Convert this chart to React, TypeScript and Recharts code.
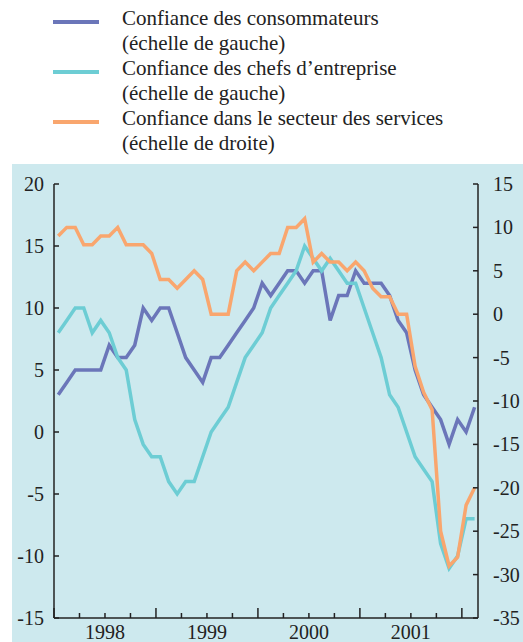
import React from "react";
import { LineChart, Line, XAxis, YAxis } from "recharts";

const years = ["1998", "1999", "2000", "2001"];

// monthly values, Jan 1998 - Feb 2002
const consumers = [
  3, 4, 5, 5, 5, 5, 7, 6, 6, 7, 10, 9,
  10, 10, 8, 6, 5, 4, 6, 6, 7, 8, 9, 10,
  12, 11, 12, 13, 13, 12, 13, 13, 9, 11, 11, 13,
  12, 12, 12, 11, 9, 8, 5, 3, 2, 1, -1, 1,
  0, 2,
];
const business = [
  8, 9, 10, 10, 8, 9, 8, 6, 5, 1, -1, -2,
  -2, -4, -5, -4, -4, -2, 0, 1, 2, 4, 6, 7,
  8, 10, 11, 12, 13, 15, 14, 13, 14, 13, 12, 12,
  10, 8, 6, 3, 2, 0, -2, -3, -4, -9, -11, -10,
  -7, -7,
];
const services = [
  9, 10, 10, 8, 8, 9, 9, 10, 8, 8, 8, 7,
  4, 4, 3, 4, 5, 4, 0, 0, 0, 5, 6, 5,
  6, 7, 7, 10, 10, 11, 6, 7, 6, 6, 5, 6,
  5, 3, 2, 2, 0, 0, -6, -9, -11, -25, -29, -28,
  -22, -20,
];

const leftTicks = [-15, -10, -5, 0, 5, 10, 15, 20];
const rightTicks = [-35, -30, -25, -20, -15, -10, -5, 0, 5, 10, 15];
const quarterTicks = Array.from({ length: 17 }, (_, i) => i * 3);

const data = consumers.map((c, i) => ({
  t: i + 0.5,
  consumers: c,
  business: business[i],
  services: services[i],
}));

const BLUE = "#6b76b9";
const CYAN = "#6dcdd4";
const ORANGE = "#f9a66e";
const INK = "#222";
const FONT = "'Liberation Serif', 'Times New Roman', serif";

const LeftTick = (props: any) => {
  const { x, y, payload } = props;
  return (
    <g>
      <line x1={x + 10} x2={x + 15} y1={y} y2={y} stroke={INK} strokeWidth={1.5} />
      <text x={x} y={y} dy="0.35em" textAnchor="end" fontSize={20} fontFamily={FONT} fill={INK}>
        {payload.value}
      </text>
    </g>
  );
};

const RightTick = (props: any) => {
  const { x, y, payload } = props;
  return (
    <g>
      <line x1={x - 20} x2={x - 15} y1={y} y2={y} stroke={INK} strokeWidth={1.5} />
      <text x={x} y={y} dy="0.35em" textAnchor="start" fontSize={20} fontFamily={FONT} fill={INK}>
        {payload.value}
      </text>
    </g>
  );
};

const BottomTick = (props: any) => {
  const { x, y, payload } = props;
  const v = payload.value;
  const axisY = y;
  const len = v % 12 === 0 ? 10 : 5;
  const label = v % 12 === 6 ? years[(v - 6) / 12] : null;
  return (
    <g>
      <line x1={x} x2={x} y1={axisY} y2={axisY - len} stroke={INK} strokeWidth={1.5} />
      {label && (
        <text x={x} y={axisY + 21} textAnchor="middle" fontSize={20} fontFamily={FONT} fill={INK}>
          {label}
        </text>
      )}
    </g>
  );
};

const legendRows = [
  { color: BLUE, lines: ["Confiance des consommateurs", "(échelle de gauche)"] },
  { color: CYAN, lines: ["Confiance des chefs d’entreprise", "(échelle de gauche)"] },
  { color: ORANGE, lines: ["Confiance dans le secteur des services", "(échelle de droite)"] },
];

export default function App() {
  return (
    <div style={{ position: "absolute", left: 0, top: 0, width: 523, height: 642, overflow: "hidden", background: "#fff" }}>
      <div style={{ position: "absolute", left: 12, top: 164, width: 511, height: 478, background: "#cde9ee" }} />
      {legendRows.map((r, i) => (
        <div key={i}>
          <div style={{ position: "absolute", left: 53, top: 20 + i * 50, width: 46, height: 4, background: r.color }} />
          <div
            style={{
              position: "absolute",
              left: 122,
              top: 6 + i * 50,
              fontFamily: FONT,
              fontSize: 21,
              lineHeight: "25px",
              color: INK,
              whiteSpace: "nowrap",
            }}
          >
            {r.lines.map((l) => (
              <div key={l}>{l}</div>
            ))}
          </div>
        </div>
      ))}
      <div style={{ position: "absolute", left: 0, top: 0 }}>
        <LineChart width={523} height={642} data={data} margin={{ top: 184, right: 0, bottom: 0, left: 0 }}>
          <XAxis
            dataKey="t"
            type="number"
            domain={[0, 49.9]}
            ticks={quarterTicks}
            interval={0}
            height={24}
            tickSize={0}
            tickMargin={0}
            tickLine={false}
            tick={<BottomTick />}
            axisLine={{ stroke: INK, strokeWidth: 1.5 }}
          />
          <YAxis
            yAxisId="left"
            orientation="left"
            domain={[-15, 20]}
            ticks={leftTicks}
            interval={0}
            width={54}
            tickSize={0}
            tickMargin={10}
            tickLine={false}
            tick={<LeftTick />}
            axisLine={{ stroke: INK, strokeWidth: 1.5 }}
          />
          <YAxis
            yAxisId="right"
            orientation="right"
            domain={[-35, 15]}
            ticks={rightTicks}
            interval={0}
            width={45}
            tickSize={0}
            tickMargin={15}
            tickLine={false}
            tick={<RightTick />}
            axisLine={{ stroke: INK, strokeWidth: 1.5 }}
          />
          <Line yAxisId="left" dataKey="consumers" stroke={BLUE} strokeWidth={3.5} dot={false} isAnimationActive={false} strokeLinejoin="miter" />
          <Line yAxisId="left" dataKey="business" stroke={CYAN} strokeWidth={3.5} dot={false} isAnimationActive={false} strokeLinejoin="miter" />
          <Line yAxisId="right" dataKey="services" stroke={ORANGE} strokeWidth={3.5} dot={false} isAnimationActive={false} strokeLinejoin="miter" />
        </LineChart>
      </div>
    </div>
  );
}
